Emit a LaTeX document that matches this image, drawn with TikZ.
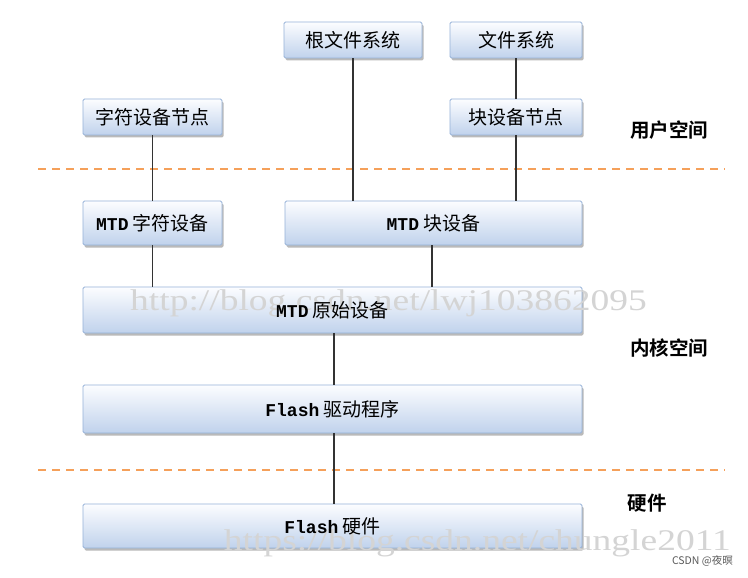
\documentclass[tikz,border=0pt]{standalone}
\usepackage{fontspec}
\usepackage{graphicx}
\setmainfont{Noto Sans CJK SC}
\newfontfamily\latinmono{Liberation Mono}
\newfontfamily\wmfont{Liberation Serif}
\newfontfamily\cjkbold{Noto Sans CJK SC}[BoldFont={* Bold}]
\usetikzlibrary{shadows}
\definecolor{boxtop}{RGB}{252,253,255}
\definecolor{boxbot}{RGB}{192,210,236}
\definecolor{boxedge}{RGB}{150,178,216}
\definecolor{dashor}{RGB}{245,160,90}
\tikzset{
  layerbox/.style={draw=boxedge, line width=0.8pt, rounded corners=1.5pt,
    top color=boxtop, bottom color=boxbot,
    drop shadow={shadow xshift=1.5pt, shadow yshift=-2.5pt, fill=black!45, opacity=0.6},
    font=\fontsize{19}{22}\selectfont, text=black},
  link/.style={draw=black!80, line width=1.1pt},
  sepline/.style={draw=dashor, line width=1.4pt, dash pattern=on 8pt off 6pt},
  layerlabel/.style={font=\cjkbold\bfseries\fontsize{19.5}{22}\selectfont, text=black},
  watermark/.style={font=\wmfont\fontsize{30}{32}\selectfont, text=black!17, inner sep=0pt},
}
\newcommand{\lt}[1]{{\latinmono\bfseries\fontsize{18}{22}\selectfont #1}}
\newcommand{\wmtext}[1]{\scalebox{1.25}[1]{#1}}
\begin{document}
\begin{tikzpicture}[x=1pt,y=-1pt]
\useasboundingbox (0,0) rectangle (748,578);
\fill[white] (0,0) rectangle (748,578);
% separators
\draw[sepline] (38,169) -- (725,169);
\draw[sepline] (38,470) -- (725,470);
% boxes
\node[layerbox, minimum width=138pt, minimum height=36pt] (root) at (353,40) {根文件系统};
\node[layerbox, minimum width=132pt, minimum height=36pt] (fs) at (516,40) {文件系统};
\node[layerbox, minimum width=139pt, minimum height=36pt] (chnode) at (152.5,117) {字符设备节点};
\node[layerbox, minimum width=132pt, minimum height=36pt] (blknode) at (516,117) {块设备节点};
\node[layerbox, minimum width=139pt, minimum height=44pt] (mtdch) at (152.5,223) {\lt{MTD} 字符设备};
\node[layerbox, minimum width=297pt, minimum height=44pt] (mtdblk) at (433.5,223) {\lt{MTD} 块设备};
\node[layerbox, minimum width=499pt, minimum height=46pt] (raw) at (332.5,310) {};
\node[layerbox, minimum width=499pt, minimum height=48pt] (drv) at (332.5,409) {\lt{Flash} 驱动程序};
\node[layerbox, minimum width=499pt, minimum height=44pt] (hw) at (332.5,526) {};
% connectors
\draw[link] (root.south) -- (root.south |- mtdblk.north);
\draw[link] (fs.south) -- (blknode.north);
\draw[link] (blknode.south) -- (blknode.south |- mtdblk.north);
\draw[link] (chnode.south) -- (mtdch.north);
\draw[link] (mtdch.south) -- (mtdch.south |- raw.north);
\coordinate (blkdown) at (432,0);
\draw[link] (blkdown |- mtdblk.south) -- (blkdown |- raw.north);
\coordinate (coldown) at (334,0);
\draw[link] (coldown |- raw.south) -- (coldown |- drv.north);
\draw[link] (coldown |- drv.south) -- (coldown |- hw.north);
% layer labels
\node[layerlabel] (lu) at (669,130) {用户空间};
\node[layerlabel] (lk) at (669,348) {内核空间};
\node[layerlabel] (lh) at (647,503) {硬件};
% watermarks
\node[watermark, anchor=west] (wm1) at (130,303) {\wmtext{http://blog.csdn.net/lwj103862095}};
\node[watermark, anchor=east] (wm2) at (731,543) {\wmtext{https://blog.csdn.net/chungle2011}};
% texts of the two long boxes, over the watermark
\node[font=\fontsize{19}{22}\selectfont, text=black] (rawtext) at (raw.center) {\lt{MTD} 原始设备};
\node[font=\fontsize{19}{22}\selectfont, text=black] (hwtext) at (hw.center) {\lt{Flash} 硬件};
\node[font=\fontsize{10.5}{12}\selectfont, text=black!65, anchor=east, inner sep=0pt] (csdn) at (733,561) {CSDN @夜暝};
\end{tikzpicture}
\end{document}
